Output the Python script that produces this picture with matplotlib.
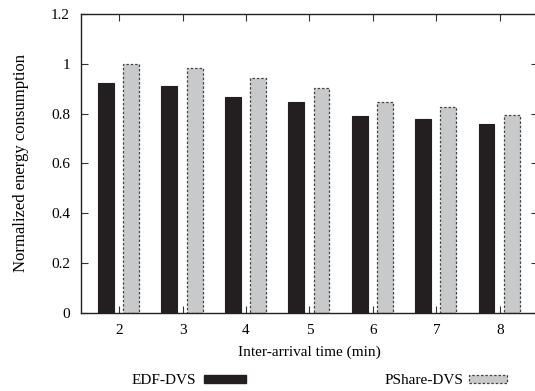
import numpy as np
import matplotlib
matplotlib.use("Agg")
from matplotlib import pyplot as plt
from matplotlib.patches import Patch

plt.rcParams["font.family"] = ["Liberation Serif", "DejaVu Serif"]

# data
inter_arrival = [2, 3, 4, 5, 6, 7, 8]
edf_dvs = [0.922, 0.911, 0.868, 0.846, 0.792, 0.779, 0.760]
pshare_dvs = [1.0, 0.983, 0.942, 0.902, 0.848, 0.826, 0.796]

black = "#231f20"
grey = "#c8c9cb"

fig = plt.figure(figsize=(5.35, 3.91), dpi=100)
ax = fig.add_axes([0.1514, 0.1995, 0.854, 0.7647])

x = np.array(inter_arrival, dtype=float)
ax.bar(x - 0.21, edf_dvs, width=0.25, color=black, edgecolor=black, linewidth=0.8)
ax.bar(x + 0.19, pshare_dvs, width=0.25, color=grey, edgecolor="#444444",
       linewidth=0.9, linestyle=(0, (2, 1.5)))

ax.set_xlim(1.4, 8.6)
ax.set_ylim(0, 1.2)
ax.set_xticks(inter_arrival)
ax.set_yticks([0, 0.2, 0.4, 0.6, 0.8, 1.0, 1.2])
ax.set_yticklabels(["0", "0.2", "0.4", "0.6", "0.8", "1", "1.2"])
ax.tick_params(direction="in", top=True, right=True, labelsize=11, length=5,
               width=0.8, color="#333333", pad=8)
for s in ax.spines.values():
    s.set_linewidth(1.0)
    s.set_color("#222222")

ax.set_xlabel("Inter-arrival time (min)", fontsize=11, labelpad=6)
ax.set_ylabel("Normalized energy consumption", fontsize=12, labelpad=16)

h1 = Patch(facecolor=black, edgecolor=black)
h2 = Patch(facecolor=grey, edgecolor="#444444", linestyle=(0, (2, 1.5)), linewidth=0.9)
fig.legend([h1], ["EDF-DVS"], loc="center", bbox_to_anchor=(0.353, 0.026),
           frameon=False, markerfirst=False, fontsize=11, handlelength=2.75,
           handleheight=0.4, handletextpad=0.5, borderpad=0)
fig.legend([h2], ["PShare-DVS"], loc="center", bbox_to_anchor=(0.833, 0.026),
           frameon=False, markerfirst=False, fontsize=11, handlelength=2.5,
           handleheight=0.4, handletextpad=0.4, borderpad=0)

fig.savefig("out.png", dpi=100)
